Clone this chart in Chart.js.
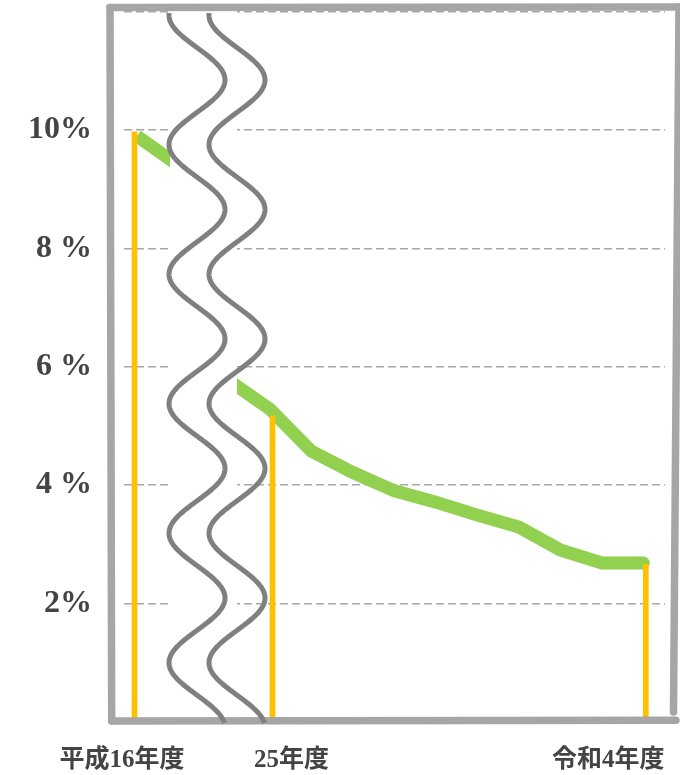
<!DOCTYPE html>
<html>
<head>
<meta charset="utf-8">
<script src="https://cdn.jsdelivr.net/npm/chart.js@4.4.1/dist/chart.umd.min.js"></script>
<style>
  html, body { margin: 0; padding: 0; background: #ffffff; }
  #wrap { width: 680px; height: 775px; position: relative; }
</style>
</head>
<body>
<div id="wrap"><canvas id="chart" width="680" height="775"></canvas></div>
<script>
// ---- data ----
const xLabels      = ['平成16年度', '25年度', '令和4年度'];
const xLabelYears  = [2004, 2013, 2022];
const yTickValues  = [0, 2, 4, 6, 8, 10, 12];
const yTickLabels  = ['', '2%', '4 %', '6 %', '8 %', '10%', ''];
const earlyYears   = [2004, 2005];
const earlyRates   = [9.9, 9.4];
const lateYears    = [2012, 2013, 2014, 2015, 2016, 2017, 2018, 2019, 2020, 2021, 2022];
const lateRates    = [5.77, 5.28, 4.57, 4.21, 3.90, 3.71, 3.49, 3.29, 2.90, 2.68, 2.68];
const markerYears  = [2004, 2013, 2022];
const markerRates  = [9.97, 5.17, 2.66];
const breakYear    = 2009;

// ---- styling ----
const GREEN = '#92d050';
const ORANGE = '#ffc000';
const FRAME = '#a6a6a6';
const WAVE = '#808080';
const TEXT = '#444444';

const pts = (xs, ys) => xs.map((x, i) => ({ x: x, y: ys[i] }));
const markerPts = pts(markerYears, markerRates);

const decorPlugin = {
  id: 'decor',
  afterDatasetsDraw(chart, args, opts) {
    const ctx = chart.ctx;
    const a = chart.chartArea;
    ctx.save();
    // blank band of the axis break
    ctx.fillStyle = '#ffffff';
    ctx.fillRect(opts.gapLeft, 0, opts.gapRight - opts.gapLeft, a.bottom + 3);
    // hand-drawn frame
    ctx.strokeStyle = FRAME;
    ctx.lineWidth = 7.5;
    ctx.lineCap = 'round';
    const seg = (x1, y1, x2, y2) => { ctx.beginPath(); ctx.moveTo(x1, y1); ctx.lineTo(x2, y2); ctx.stroke(); };
    seg(110, 7.5, 681, 7);
    seg(110, 7.5, 111.7, 721);
    seg(111.7, 721, 676, 720.3);
    seg(679, 7, 673.5, 712);
    // wavy break lines
    ctx.strokeStyle = WAVE;
    ctx.lineWidth = 5;
    ctx.lineCap = 'butt';
    ctx.lineJoin = 'round';
    for (const cx of opts.waveCenters) {
      ctx.beginPath();
      for (let y = 13; y <= 723; y += 1) {
        const x = cx + 28 * Math.cos(2 * Math.PI * (y - 80) / 129.5);
        if (y === 13) ctx.moveTo(x, y); else ctx.lineTo(x, y);
      }
      ctx.stroke();
    }
    // x-axis labels
    ctx.fillStyle = TEXT;
    ctx.font = "bold 25px 'Liberation Serif', 'Noto Sans CJK JP', serif";
    ctx.textAlign = 'center';
    ctx.textBaseline = 'middle';
    xLabels.forEach((lab, i) => {
      const yr = xLabelYears[i];
      const sc = yr < breakYear ? chart.scales.xL : chart.scales.xR;
      ctx.fillText(lab, sc.getPixelForValue(yr) + opts.labelNudge[i], 761);
    });
    ctx.restore();
  }
};

new Chart(document.getElementById('chart'), {
  type: 'line',
  data: {
    datasets: [
      {
        type: 'bar', xAxisID: 'xL', yAxisID: 'y', order: 0,
        data: markerPts.filter(p => p.x < breakYear),
        backgroundColor: ORANGE, borderWidth: 0, barThickness: 5
      },
      {
        type: 'bar', xAxisID: 'xR', yAxisID: 'y', order: 0,
        data: markerPts.filter(p => p.x >= breakYear),
        backgroundColor: ORANGE, borderWidth: 0, barThickness: 5
      },
      {
        type: 'line', xAxisID: 'xL', yAxisID: 'y', order: 1,
        data: pts(earlyYears, earlyRates),
        borderColor: GREEN, borderWidth: 13, pointRadius: 0, tension: 0,
        borderCapStyle: 'butt', borderJoinStyle: 'miter', fill: false
      },
      {
        type: 'line', xAxisID: 'xR', yAxisID: 'y', order: 1,
        data: pts(lateYears, lateRates),
        borderColor: GREEN, borderWidth: 13, pointRadius: 0, tension: 0,
        borderCapStyle: 'round', borderJoinStyle: 'miter', fill: false
      }
    ]
  },
  options: {
    responsive: false,
    animation: false,
    events: [],
    layout: { padding: { left: 0, right: 15, top: 11.7, bottom: 53.4 } },
    plugins: {
      legend: { display: false },
      tooltip: { enabled: false },
      decor: { gapLeft: 170, gapRight: 237, waveCenters: [197, 237], labelNudge: [-15, 21.5, -35] }
    },
    scales: {
      xL: { type: 'linear', position: 'bottom', display: false, offset: false,
            min: 2003.687, max: 2016.73, grid: { display: false } },
      xR: { type: 'linear', position: 'bottom', display: false, offset: false,
            min: 2009.48, max: 2022.523, grid: { display: false } },
      y: {
        type: 'linear', position: 'left', min: 0, max: 12,
        afterBuildTicks: (s) => { s.ticks = yTickValues.map(v => ({ value: v })); },
        afterFit: (s) => { s.width = 124; s.paddingTop = 0; s.paddingBottom = 0; },
        ticks: {
          callback: (v, i) => yTickLabels[i],
          color: TEXT, padding: 32,
          font: { family: "'Liberation Serif', serif", size: 32, weight: 'bold' }
        },
        grid: { color: '#a8a8a8', lineWidth: 1.5, drawTicks: false },
        border: { display: false, dash: [8, 4] }
      }
    }
  },
  plugins: [decorPlugin]
});
</script>
</body>
</html>
